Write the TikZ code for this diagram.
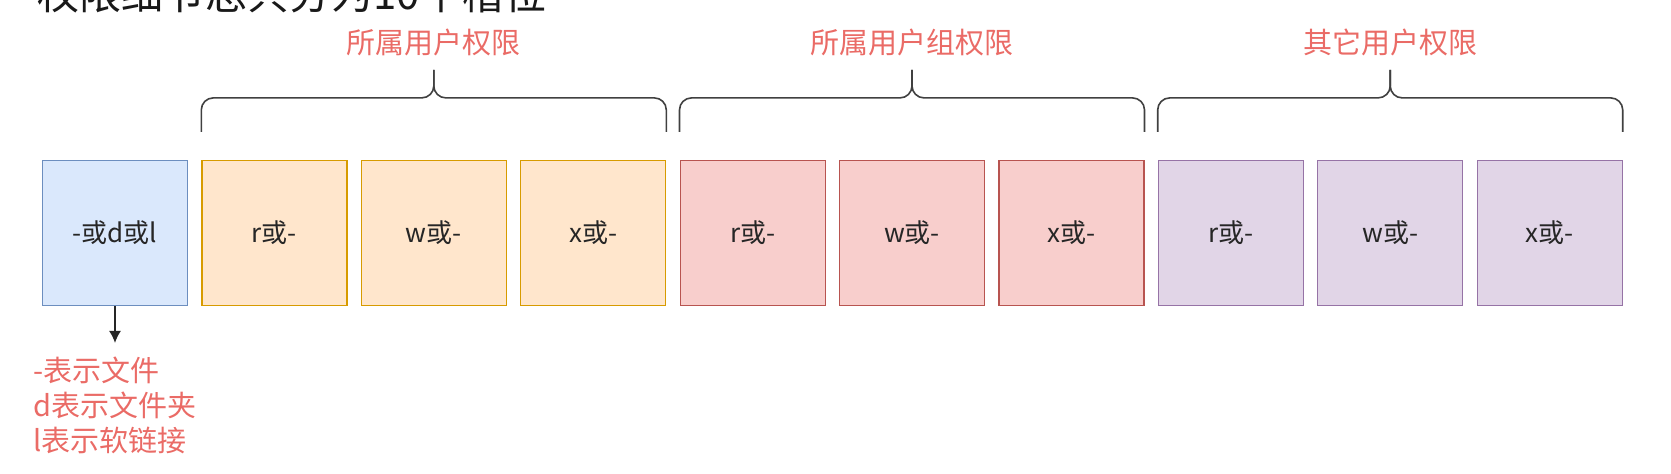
\documentclass[tikz,border=0pt]{standalone}
\usepackage{fontspec}
\setmainfont{Noto Sans CJK SC}
\usetikzlibrary{arrows.meta,positioning,calc}
\definecolor{bfill}{HTML}{DAE8FC}\definecolor{bline}{HTML}{6C8EBF}
\definecolor{ofill}{HTML}{FFE6CC}\definecolor{oline}{HTML}{D79B00}
\definecolor{rfill}{HTML}{F8CECC}\definecolor{rline}{HTML}{B85450}
\definecolor{pfill}{HTML}{E1D5E7}\definecolor{pline}{HTML}{9673A6}
\definecolor{tagred}{HTML}{EA6B66}

\begin{document}
\begin{tikzpicture}
[x=0.5pt, y=-0.5pt, node distance=6.6pt, >={Latex[length=6pt,width=6pt]},
slot/.style = 
{draw, shape=rectangle, minimum size=72.5pt, inner sep=0pt, line width=0.6pt,
 font=\fontsize{13}{15}\selectfont, text=black!85},
tslot/.style = {slot, fill=bfill, draw=bline},
oslot/.style = {slot, fill=ofill, draw=oline},
rslot/.style = {slot, fill=rfill, draw=rline},
pslot/.style = {slot, fill=pfill, draw=pline},
tag/.style = {font=\fontsize{14.5}{17.5}\selectfont, text=tagred, inner sep=0pt, align=left},
brace/.style = {draw=black!75, line width=0.8pt, rounded corners=6pt}]
\useasboundingbox (0,0) rectangle (1671,474);

\node [anchor=base west, inner sep=0pt, font=\fontsize{21}{25}\selectfont, text=black!90]
  (title) at (37,10) {权限细节总共分为10个槽位};

\node [tslot](0) at (115,233){-或d或l};

\node [oslot, right=of 0](11){r或-};
\node [oslot, right=of 11](12){w或-};
\node [oslot, right=of 12](13){x或-};

\node [rslot, right=of 13](21){r或-};
\node [rslot, right=of 21](22){w或-};
\node [rslot, right=of 22](23){x或-};

\node [pslot, right=of 23](31){r或-};
\node [pslot, right=of 31](32){w或-};
\node [pslot, right=of 32](33){x或-};

% braces over the three groups
\path[brace] ($(11.north west)+(0,-28)$) -- ++(0,-34) -- ($(12.north)+(0,-62)$) -- ++(0,-28);
\path[brace] ($(13.north east)+(0,-28)$) -- ++(0,-34) -- ($(12.north)+(0,-62)$) -- ++(0,-28);
\path[brace] ($(21.north west)+(0,-28)$) -- ++(0,-34) -- ($(22.north)+(0,-62)$) -- ++(0,-28);
\path[brace] ($(23.north east)+(0,-28)$) -- ++(0,-34) -- ($(22.north)+(0,-62)$) -- ++(0,-28);
\path[brace] ($(31.north west)+(0,-28)$) -- ++(0,-34) -- ($(32.north)+(0,-62)$) -- ++(0,-28);
\path[brace] ($(33.north east)+(0,-28)$) -- ++(0,-34) -- ($(32.north)+(0,-62)$) -- ++(0,-28);

\node [tag] (own) at ($(12.north)+(0,-117)$){所属用户权限};
\node [tag] (grp) at ($(22.north)+(0,-117)$){所属用户组权限};
\node [tag] (oth) at ($(32.north)+(0,-117)$){其它用户权限};

\node [tag, anchor=north west] (typ) at (33,357){-表示文件\\d表示文件夹\\l表示软链接};
\draw [->, line width=0.8pt, black!85, shorten >=7pt] (0.south) -- (0.south |- typ.north);

\end{tikzpicture}
\end{document}
